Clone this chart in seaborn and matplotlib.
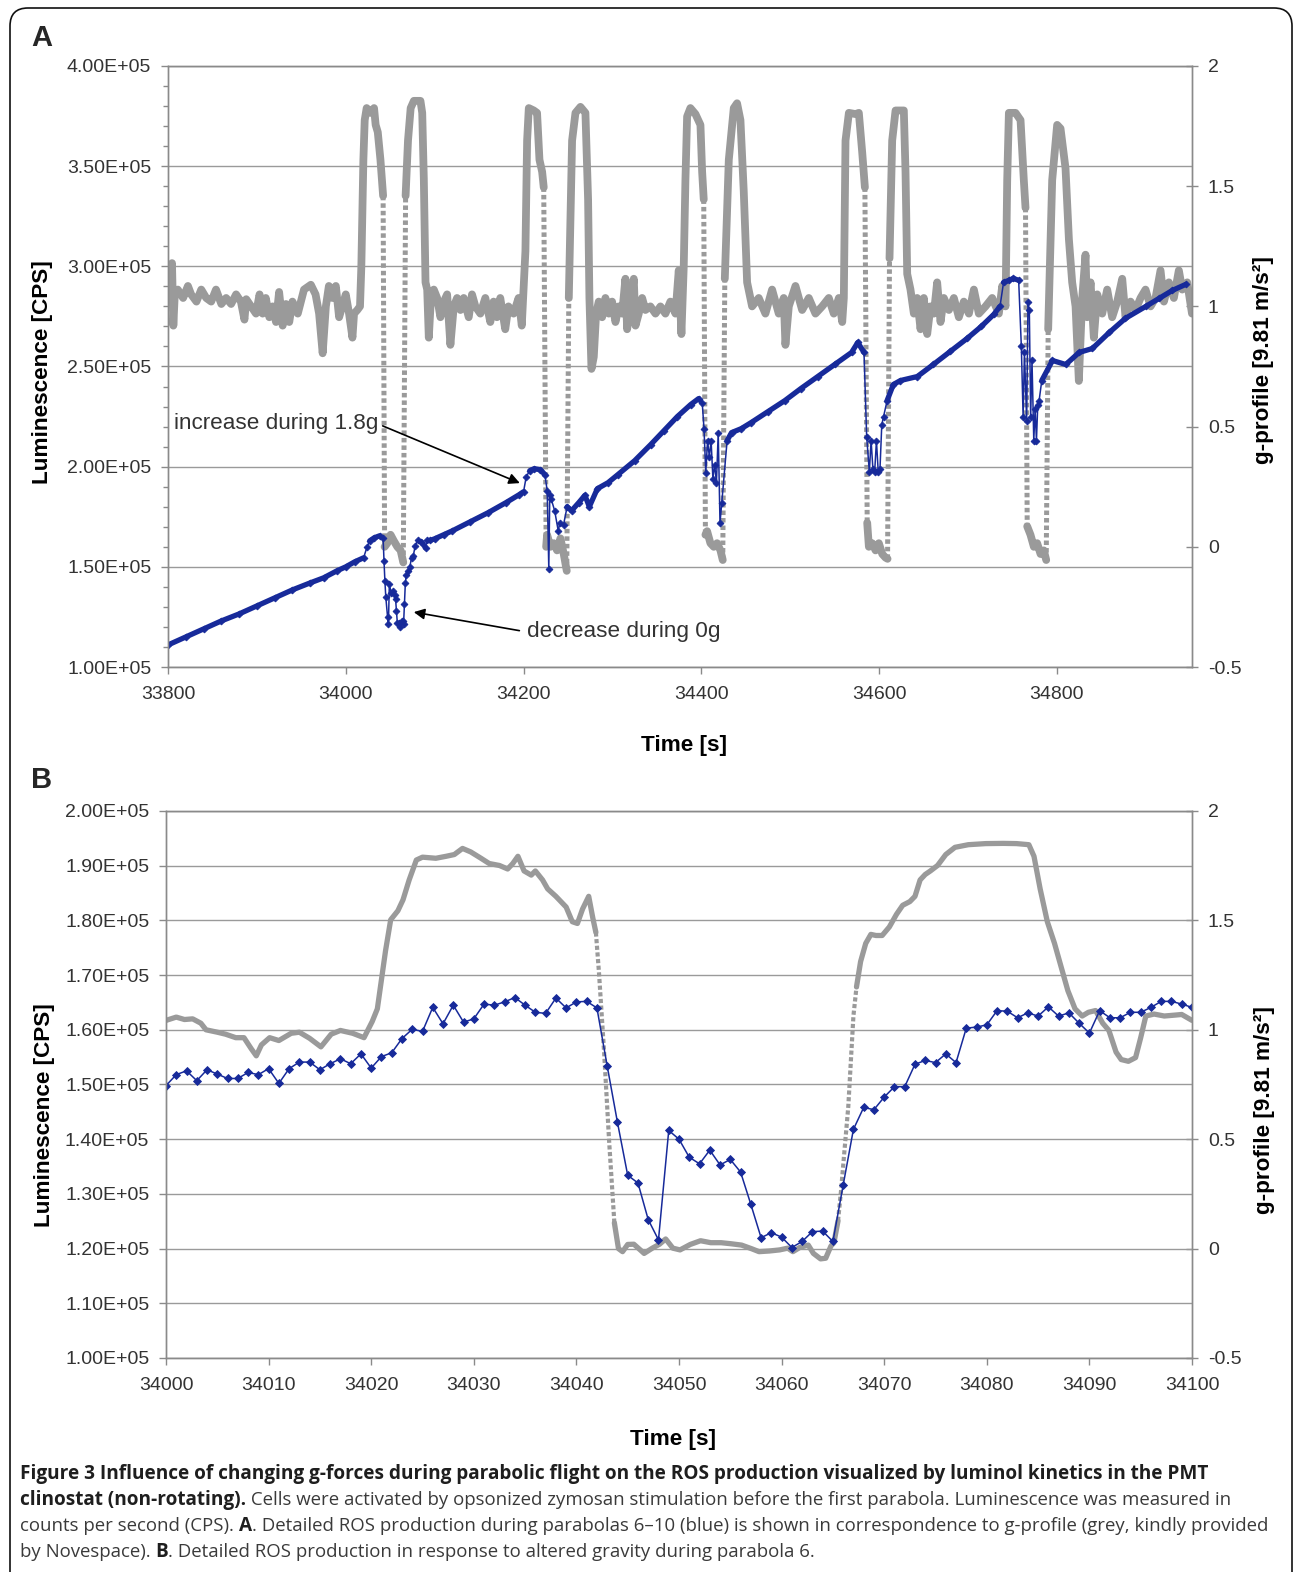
import numpy as np
import matplotlib
matplotlib.use('Agg')
import matplotlib.pyplot as plt
import seaborn as sns
from matplotlib.patches import FancyBboxPatch
from matplotlib.ticker import FuncFormatter, MultipleLocator

# ---------------- data ----------------
# Panel A: g-profile (grey, right axis)
a_g_time = [
    33800, 33803, 33804.5, 33806, 33807.5, 33811, 33817, 33822.4, 33826, 33832,
    33837.4, 33843, 33848.6, 33854, 33860, 33865.4, 33871, 33876.6, 33882, 33886,
    33888, 33893.5, 33899, 33903, 33906.5, 33910, 33914, 33917.7, 33921.5, 33925,
    33929, 33932.7, 33936.4, 33940, 33946, 33953, 33960.7, 33966, 33970, 33974,
    33977.6, 33981, 33985, 33988.8, 33992.5, 33996, 34000, 34003.7, 34007.5, 34009.3,
    34013, 34016, 34017.5, 34019.8, 34021.3, 34023.5, 34028, 34031.8, 34033.6, 34036,
    34039, 34042, 34043.7, 34046.7, 34050.4, 34054, 34058, 34061.7, 34064.7, 34067.3,
    34070, 34073, 34076.6, 34084, 34086, 34087.8, 34089.7, 34091.6, 34093.4, 34095.3,
    34099, 34102.8, 34106.5, 34110.3, 34114, 34117.7, 34121.5, 34125.2, 34129, 34132.7,
    34138.3, 34142, 34145.8, 34151.4, 34157, 34162.6, 34166.3, 34170, 34173.8, 34179.4,
    34183, 34188.8, 34194.4, 34198,
    34202.1, 34204, 34205.9, 34211.5, 34215.2, 34217.9, 34220.9, 34222.7, 34225.4, 34226.5,
    34230.2, 34234, 34237.7, 34241.5, 34245.2, 34248.6, 34250.9, 34254.6, 34258.4, 34264,
    34269.6, 34272.6, 34274.1, 34276.4, 34279, 34281.6, 34284.6, 34288.4, 34292.1, 34295.9,
    34299.6, 34303.4, 34307.1, 34310.9, 34314.6, 34316.5, 34320.2, 34324, 34325.9, 34329.6,
    34333.4, 34337.1, 34342.7, 34348.4, 34354, 34359.6, 34365.2, 34370.9, 34374.6, 34377.6,
    34380.2, 34382.1, 34384, 34387.7, 34393.4, 34399, 34400.9, 34402.7, 34404.6, 34406.5,
    34410.2, 34414, 34417.7, 34421.5, 34424.1, 34426.4, 34430.9, 34436.5, 34440.2, 34444,
    34447.7, 34451.5, 34457.1, 34464.6, 34472.1, 34479.6, 34487.1, 34492.7, 34494.6, 34498.4,
    34505.9, 34513.4, 34520.9, 34528.4, 34535.9, 34543.4, 34549,
    34554.7, 34558.5, 34560.3, 34562.2, 34566, 34573.5, 34577.2, 34581, 34584, 34586.6,
    34588.5, 34592.2, 34596, 34599.7, 34603.5, 34607.2, 34609.5, 34611.7, 34614.7, 34618.5,
    34627.8, 34629.7, 34631.6, 34635.3, 34639.1, 34642.8, 34646.6, 34650.3, 34654.1, 34657.8,
    34661.6, 34665.3, 34669.1, 34672.8, 34678.5, 34684.1, 34689.7, 34695.3, 34701, 34706.6,
    34712.2, 34719.7, 34727.2, 34734.7, 34738.5, 34742.2, 34744.1, 34746, 34753.5, 34759.1,
    34762.8, 34764.7, 34766.6, 34770.3, 34774.1, 34777.8, 34781.6, 34785.3, 34788, 34790.2,
    34794.7, 34800.3, 34804.1, 34809.7, 34813.5, 34817.2, 34821, 34824.7, 34828.5, 34832.2,
    34834.1, 34837.9, 34841.6, 34845.4, 34851, 34856.6, 34862.2, 34867.9, 34873.5, 34877.2,
    34882.9, 34888.5, 34894.1, 34899.7, 34905.4, 34911, 34916.6, 34920.4, 34926, 34931.6,
    34937.2, 34941, 34946.6, 34952,
]
a_g_value = [
    1.06, 1.08, 1.18, 0.92, 1.04, 1.07, 1.035, 1.085, 1.05, 1.02,
    1.07, 1.035, 1.02, 1.07, 1.01, 1.035, 1.01, 1.05, 1.02, 0.945,
    1.03, 1.0, 0.97, 1.05, 0.97, 1.035, 0.955, 1.0, 0.935, 1.06,
    0.92, 1.01, 0.935, 1.02, 0.97, 1.07, 1.09, 1.05, 0.97, 0.805,
    1.0, 1.085, 1.035, 1.085, 0.955, 1.0, 1.05, 0.97, 0.87, 0.97,
    0.985, 1.0, 1.165, 1.61, 1.775, 1.825, 1.805, 1.825, 1.755, 1.725,
    1.61, 1.46, 0.0, 0.015, 0.05, 0.025, 0.0, -0.015, -0.065, 1.46,
    1.69, 1.825, 1.855, 1.855, 1.805, 1.53, 1.1, 1.07, 0.87, 1.0,
    1.07, 1.035, 0.955, 1.02, 1.05, 0.84, 1.0, 1.035, 0.985, 1.035,
    0.955, 1.05, 1.0, 0.97, 1.035, 0.935, 1.02, 0.955, 1.035, 0.905,
    1.0, 0.97, 1.035, 0.92,
    1.23, 1.69, 1.825, 1.815, 1.805, 1.61, 1.56, 1.495, 0.0, 0.05,
    0.0, 0.015, -0.015, 0.035, -0.03, -0.1, 1.035, 1.69, 1.805, 1.83,
    1.805, 1.445, 1.035, 0.74, 0.79, 0.97, 1.02, 0.955, 1.035, 0.97,
    1.02, 0.935, 1.0, 0.97, 1.115, 0.905, 1.0, 1.115, 0.92, 0.97,
    1.035, 0.985, 1.0, 0.97, 1.0, 0.97, 1.02, 0.97, 1.15, 0.885,
    1.165, 1.525, 1.79, 1.825, 1.8, 1.755, 1.56, 1.445, 0.05, 0.065,
    0.015, 0.0, 0.015, -0.015, -0.055, 1.115, 1.61, 1.825, 1.845, 1.775,
    1.48, 1.1, 1.0, 1.035, 0.97, 1.07, 0.97, 1.035, 0.84, 1.0,
    1.085, 0.985, 1.035, 0.97, 1.0, 1.035, 0.97,
    1.035, 0.935, 1.035, 1.69, 1.805, 1.8, 1.805, 1.64, 1.495, 0.1,
    0.0, 0.015, -0.015, 0.015, -0.03, -0.045, -0.05, 1.2, 1.69, 1.815,
    1.815, 1.56, 1.135, 1.07, 0.97, 1.035, 0.905, 1.035, 0.885, 1.0,
    0.97, 1.1, 0.935, 1.035, 0.985, 1.035, 0.955, 1.02, 0.97, 1.07,
    0.97, 1.0, 1.035, 0.97, 1.085, 1.0, 1.525, 1.805, 1.805, 1.775,
    1.525, 1.41, 0.085, 0.05, 0.0, 0.015, -0.03, -0.015, -0.055, 0.905,
    1.525, 1.755, 1.74, 1.575, 1.28, 1.1, 1.0, 0.69, 1.035, 1.215,
    0.955, 1.1, 0.87, 1.05, 0.97, 1.07, 0.955, 1.02, 1.115, 0.955,
    1.02, 0.985, 1.035, 1.07, 1.0, 1.035, 1.15, 1.02, 1.1, 1.035,
    1.15, 1.07, 1.1, 0.97,
]

# Panel A: luminescence (blue, left axis)
a_lum_time = [
    33800, 33820, 33840, 33860, 33880, 33900, 33920, 33940, 33960, 33975,
    33990, 34000, 34010, 34020, 34024, 34027, 34032, 34038, 34042, 34043,
    34044, 34045, 34047, 34048, 34049, 34051, 34053, 34055, 34056, 34057,
    34058, 34060, 34061, 34063, 34064, 34065, 34066, 34067, 34068, 34070,
    34072, 34074, 34076, 34078, 34081, 34085, 34090, 34091, 34095, 34100,
    34110, 34120, 34140, 34160, 34180, 34195, 34200, 34203, 34207, 34212,
    34219, 34224, 34226.6, 34228.4, 34229.5, 34231, 34235, 34239, 34241, 34245,
    34249, 34254, 34262, 34269, 34274, 34283, 34295, 34306, 34325, 34343,
    34358, 34373, 34388, 34397, 34401, 34403, 34405, 34407, 34409, 34411,
    34413, 34415, 34417, 34419, 34421, 34423, 34429, 34434, 34445, 34456,
    34475, 34494, 34512, 34531, 34550, 34569, 34576, 34583, 34586, 34589,
    34591, 34593, 34595, 34597, 34599, 34601, 34603, 34605, 34609, 34616,
    34624, 34643, 34661, 34680, 34699, 34715, 34729, 34736, 34740, 34746,
    34751, 34757, 34760, 34762, 34763.5, 34766, 34767.5, 34769, 34770.5, 34772,
    34774, 34775.5, 34777, 34778.5, 34780, 34783, 34795, 34810, 34825, 34840,
    34859, 34877, 34900, 34915, 34930, 34945,
]
a_lum_value = [
    1.11e5, 1.15e5, 1.19e5, 1.23e5, 1.265e5, 1.305e5, 1.345e5, 1.385e5, 1.42e5, 1.445e5,
    1.48e5, 1.50e5, 1.525e5, 1.545e5, 1.60e5, 1.63e5, 1.645e5, 1.655e5, 1.645e5, 1.53e5,
    1.43e5, 1.35e5, 1.25e5, 1.215e5, 1.415e5, 1.37e5, 1.38e5, 1.36e5, 1.34e5, 1.28e5,
    1.22e5, 1.22e5, 1.20e5, 1.23e5, 1.232e5, 1.213e5, 1.316e5, 1.418e5, 1.458e5, 1.477e5,
    1.50e5, 1.544e5, 1.556e5, 1.603e5, 1.635e5, 1.625e5, 1.594e5, 1.635e5, 1.632e5, 1.64e5,
    1.66e5, 1.68e5, 1.725e5, 1.77e5, 1.82e5, 1.86e5, 1.875e5, 1.95e5, 1.98e5, 1.99e5,
    1.985e5, 1.96e5, 1.88e5, 1.49e5, 1.857e5, 1.84e5, 1.78e5, 1.68e5, 1.72e5, 1.71e5,
    1.80e5, 1.78e5, 1.82e5, 1.857e5, 1.80e5, 1.89e5, 1.92e5, 1.96e5, 2.03e5, 2.11e5,
    2.18e5, 2.25e5, 2.31e5, 2.34e5, 2.32e5, 2.19e5, 1.97e5, 2.13e5, 2.05e5, 2.13e5,
    1.94e5, 2.01e5, 1.92e5, 2.17e5, 1.72e5, 1.82e5, 2.13e5, 2.17e5, 2.19e5, 2.22e5,
    2.275e5, 2.33e5, 2.39e5, 2.45e5, 2.51e5, 2.57e5, 2.62e5, 2.57e5, 2.15e5, 1.975e5,
    2.13e5, 1.99e5, 1.975e5, 2.13e5, 1.975e5, 1.99e5, 2.21e5, 2.25e5, 2.33e5, 2.41e5,
    2.43e5, 2.45e5, 2.51e5, 2.575e5, 2.64e5, 2.70e5, 2.76e5, 2.80e5, 2.92e5, 2.93e5,
    2.94e5, 2.93e5, 2.60e5, 2.25e5, 2.57e5, 2.23e5, 2.82e5, 2.78e5, 2.25e5, 2.53e5,
    2.13e5, 2.29e5, 2.13e5, 2.31e5, 2.33e5, 2.43e5, 2.53e5, 2.51e5, 2.57e5, 2.59e5,
    2.67e5, 2.74e5, 2.80e5, 2.84e5, 2.88e5, 2.91e5,
]

# Panel B: g-profile during parabola 6
b_g_time = [
    34000, 34001, 34001.8, 34002.6, 34003.4, 34003.9, 34005, 34005.8, 34006.8, 34007.6,
    34008.3, 34008.8, 34009.3, 34010.1, 34011, 34012.2, 34013, 34014, 34015.1, 34016.1,
    34017, 34018.2, 34019.3, 34020.1, 34020.6, 34020.9, 34021.4, 34021.9, 34022.6, 34023.1,
    34023.7, 34024.4, 34025, 34026.3, 34027.3, 34028.1, 34028.9, 34029.7, 34030.7, 34031.5,
    34032.5, 34033.3, 34033.8, 34034.3, 34034.9, 34035.6, 34036, 34036.7, 34037.2, 34038,
    34039, 34039.6, 34040.1, 34040.6, 34041.2, 34041.6, 34041.9, 34042.2, 34042.7, 34043.2,
    34043.7, 34044.1, 34044.5, 34045, 34045.6, 34046.2, 34046.6, 34047.4, 34048.1, 34048.7,
    34049.4, 34050.1, 34051.1, 34052.1, 34053.1, 34054.1, 34055.1, 34056.1, 34057.1, 34057.8,
    34058.8, 34059.8, 34060.6, 34061.1, 34061.8, 34062.6, 34063.1, 34063.8, 34064.3, 34064.8,
    34065.1, 34065.5, 34065.8, 34066.1, 34066.5, 34066.8, 34067, 34067.3, 34067.7, 34068.2,
    34068.7, 34069.2, 34069.8, 34070.5, 34071.2, 34071.8, 34072.5, 34073, 34073.5, 34074,
    34074.5, 34075.2, 34076, 34076.9, 34078.2, 34079.9, 34081.6, 34082.9, 34084.1, 34084.6,
    34085.2, 34085.9, 34086.6, 34087.2, 34087.9, 34088.6, 34089.3, 34089.9, 34090.6, 34091.3,
    34091.9, 34092.6, 34093.1, 34093.8, 34094.5, 34095, 34095.5, 34096.3, 34097.3, 34098.3,
    34099, 34100,
]
b_g_value = [
    1.043, 1.058, 1.047, 1.05, 1.03, 1.0, 0.989, 0.98, 0.964, 0.964,
    0.914, 0.881, 0.931, 0.964, 0.951, 0.984, 0.989, 0.961, 0.922, 0.98,
    0.997, 0.984, 0.964, 1.038, 1.096, 1.196, 1.362, 1.503, 1.544, 1.594,
    1.685, 1.776, 1.789, 1.784, 1.793, 1.801, 1.829, 1.813, 1.784, 1.76,
    1.751, 1.735, 1.76, 1.793, 1.726, 1.707, 1.726, 1.685, 1.644, 1.61,
    1.561, 1.494, 1.486, 1.552, 1.61, 1.511, 1.445, 1.262, 0.898, 0.483,
    0.118, 0.0, -0.014, 0.019, 0.02, -0.005, -0.022, 0.002, 0.02, 0.044,
    0.002, -0.006, 0.019, 0.036, 0.027, 0.027, 0.022, 0.016, -0.001, -0.014,
    -0.011, -0.006, 0.002, -0.014, 0.006, 0.016, -0.022, -0.047, -0.044, 0.011,
    0.027, 0.127, 0.268, 0.433, 0.649, 0.898, 1.063, 1.196, 1.312, 1.395,
    1.436, 1.431, 1.431, 1.47, 1.528, 1.569, 1.586, 1.61, 1.685, 1.71,
    1.726, 1.751, 1.801, 1.834, 1.846, 1.851, 1.852, 1.851, 1.846, 1.793,
    1.644, 1.494, 1.395, 1.295, 1.179, 1.096, 1.063, 1.08, 1.088, 1.03,
    0.997, 0.898, 0.864, 0.856, 0.873, 0.964, 1.063, 1.072, 1.063, 1.067,
    1.07, 1.043,
]

# Panel B: luminescence, one reading per second
b_lum_time = list(range(34000, 34101))
b_lum_value = [
    1.498e5, 1.518e5, 1.525e5, 1.507e5, 1.527e5, 1.519e5, 1.511e5, 1.511e5, 1.522e5, 1.518e5,
    1.529e5, 1.502e5, 1.529e5, 1.541e5, 1.541e5, 1.527e5, 1.538e5, 1.547e5, 1.538e5, 1.556e5,
    1.530e5, 1.551e5, 1.558e5, 1.584e5, 1.601e5, 1.597e5, 1.641e5, 1.611e5, 1.645e5, 1.614e5,
    1.620e5, 1.647e5, 1.645e5, 1.651e5, 1.659e5, 1.645e5, 1.632e5, 1.630e5, 1.658e5, 1.640e5,
    1.651e5, 1.652e5, 1.640e5, 1.534e5, 1.431e5, 1.334e5, 1.320e5, 1.253e5, 1.216e5, 1.416e5,
    1.400e5, 1.367e5, 1.355e5, 1.380e5, 1.353e5, 1.363e5, 1.340e5, 1.281e5, 1.220e5, 1.229e5,
    1.221e5, 1.202e5, 1.213e5, 1.231e5, 1.232e5, 1.213e5, 1.316e5, 1.418e5, 1.458e5, 1.454e5,
    1.477e5, 1.496e5, 1.496e5, 1.537e5, 1.544e5, 1.540e5, 1.556e5, 1.540e5, 1.603e5, 1.605e5,
    1.609e5, 1.635e5, 1.634e5, 1.622e5, 1.631e5, 1.625e5, 1.642e5, 1.625e5, 1.631e5, 1.612e5,
    1.594e5, 1.635e5, 1.622e5, 1.622e5, 1.632e5, 1.632e5, 1.641e5, 1.652e5, 1.652e5, 1.647e5,
    1.641e5,
]

# ---------------- style ----------------
GREY = '#9a9a9a'
BLUE = '#172a9a'
AXC = '#8a8a8a'
GRID = '#9a9a9a'
TXT = '#333333'
LABEL_SIZE = 16.2

sns.set_theme(style='white')
plt.rcParams['font.family'] = ['Liberation Sans', 'DejaVu Sans']

W, H = 1293, 1572
fig = plt.figure(figsize=(W / 100, H / 100), dpi=100)


def px_rect(l, t, r, b):
    return [l / W, 1 - b / H, (r - l) / W, (b - t) / H]


def draw_runs(ax, t, v, flag, kw_true, kw_false):
    # draw consecutive segments sharing the same flag as one polyline
    t = np.asarray(t, float)
    v = np.asarray(v, float)
    start = 0
    n = len(flag)
    for i in range(1, n + 1):
        if i == n or flag[i] != flag[start]:
            kw = kw_true if flag[start] else kw_false
            if kw is not None:
                sns.lineplot(x=t[start:i + 1], y=v[start:i + 1], ax=ax, sort=False,
                             estimator=None, legend=False, **kw)
            start = i


def steep(t, v, thr):
    t = np.asarray(t, float)
    v = np.asarray(v, float)
    return np.abs(np.diff(v) / np.diff(t)) > thr


def style_axes(ax, axg, ylim, ymajor, yminor, xlim, xmajor):
    ax.set_xlim(*xlim)
    ax.set_ylim(*ylim)
    axg.set_ylim(-0.5, 2)
    ax.yaxis.set_major_locator(MultipleLocator(ymajor))
    if yminor:
        ax.yaxis.set_minor_locator(MultipleLocator(yminor))
    ax.yaxis.set_major_formatter(FuncFormatter(lambda v, p: f'{v:.2E}'))
    axg.yaxis.set_major_locator(MultipleLocator(0.5))
    axg.yaxis.set_major_formatter(FuncFormatter(lambda v, p: f'{v:g}'))
    ax.xaxis.set_major_locator(MultipleLocator(xmajor))
    ax.grid(False)
    axg.grid(False)
    ax.grid(axis='y', which='major', color=GRID, lw=1.0)
    for a in (ax, axg):
        for s in a.spines.values():
            s.set_color(AXC)
            s.set_linewidth(1.0)
            s.set_visible(True)
    ax.tick_params(axis='y', which='major', direction='out', length=5, width=1,
                   color=AXC, labelsize=14, labelcolor=TXT, pad=7, left=True, right=False)
    ax.tick_params(axis='y', which='minor', direction='out', length=3.5, width=1,
                   color=AXC, left=True, right=False)
    ax.tick_params(axis='x', which='major', direction='out', length=5, width=1,
                   color=AXC, labelsize=14, labelcolor=TXT, pad=9, bottom=True)
    axg.tick_params(axis='y', which='major', direction='inout', length=9, width=1,
                    color=AXC, labelsize=14, labelcolor=TXT, pad=7, right=True, left=False)
    ax.set_zorder(axg.get_zorder() + 1)
    ax.patch.set_visible(False)


def panel(rect, g_t, g_v, g_thr, g_lw, dot_lw, dot_pat, lum_t, lum_v, dense):
    ax = fig.add_axes(rect)
    axg = ax.twinx()
    # grey g-profile: solid where slow, dotted where the samples are spread out
    draw_runs(axg, g_t, g_v, steep(g_t, g_v, g_thr),
              dict(color=GREY, lw=dot_lw, linestyle=(0, dot_pat)),
              dict(color=GREY, lw=g_lw))
    # blue luminescence
    sns.lineplot(x=lum_t, y=lum_v, ax=ax, color=BLUE, lw=1.1, marker='D',
                 markersize=4 if not dense else 3.5, markeredgecolor=BLUE,
                 markeredgewidth=0.6, sort=False, estimator=None, legend=False)
    if dense:
        t = np.asarray(lum_t, float)
        v = np.asarray(lum_v, float)
        dt = np.diff(t)
        flag = (dt >= 4.5) & (np.abs(np.diff(v) / dt) < 1500)
        draw_runs(ax, t, v, flag, dict(color=BLUE, lw=3.8), None)
    return ax, axg


# ---------------- panel A ----------------
axA, axA_g = panel(px_rect(168, 66, 1192, 667), a_g_time, a_g_value, 0.4, 5.6, 3.6,
                   (0.9, 0.6), a_lum_time, a_lum_value, True)
style_axes(axA, axA_g, (1.0e5, 4.0e5), 0.5e5, 1e4, (33800, 34952), 200)

axA.annotate('increase during 1.8g', xy=(34195.8, 1.918e5), xytext=(33806.5, 2.213e5),
             fontsize=LABEL_SIZE, color=TXT, ha='left', va='center',
             arrowprops=dict(arrowstyle='-|>', color='black', lw=1.2,
                             mutation_scale=16, relpos=(1, 0.5), shrinkA=1, shrinkB=0))
axA.annotate('decrease during 0g', xy=(34076.5, 1.274e5), xytext=(34203.6, 1.175e5),
             fontsize=LABEL_SIZE, color=TXT, ha='left', va='center',
             arrowprops=dict(arrowstyle='-|>', color='black', lw=1.2,
                             mutation_scale=16, relpos=(0, 0.5), shrinkA=3, shrinkB=0))

# ---------------- panel B ----------------
axB, axB_g = panel(px_rect(166, 811, 1192, 1358), b_g_time, b_g_value, 0.4, 3.8, 3.0,
                   (1.0, 0.6), b_lum_time, b_lum_value, False)
style_axes(axB, axB_g, (1.0e5, 2.0e5), 1e4, None, (34000, 34100), 10)

# axis labels
for ax, axg, ylab, glab, xl in ((axA, axA_g, (-0.112, 0.491), (1.060, 0.511), (0.504, -0.113)),
                                (axB, axB_g, (-0.108, 0.444), (1.060, 0.453), (0.494, -0.130))):
    ax.set_ylabel('Luminescence [CPS]', fontsize=LABEL_SIZE, fontweight='bold', color='black')
    ax.yaxis.set_label_coords(*ylab)
    axg.set_ylabel('g-profile [9.81 m/s²]', fontsize=LABEL_SIZE, fontweight='bold',
                   color='black', rotation=90)
    axg.yaxis.set_label_coords(*glab)
    ax.set_xlabel('Time [s]', fontsize=LABEL_SIZE, fontweight='bold', color='black')
    ax.xaxis.set_label_coords(*xl)

fig.text(42 / W, 1 - 38 / H, 'A', fontsize=21, fontweight='bold', ha='center', va='center')
fig.text(42 / W, 1 - 780 / H, 'B', fontsize=21, fontweight='bold', ha='center', va='center')

# ---------------- frame ----------------
frame = FancyBboxPatch((0.10, -0.4), 12.82, 16.04, boxstyle='round,pad=0,rounding_size=0.18',
                       transform=fig.dpi_scale_trans, fill=False, ec='#111111', lw=1.2,
                       clip_on=False)
fig.add_artist(frame)

# ---------------- caption ----------------
renderer = fig.canvas.get_renderer()
CAP_FONT = ['Open Sans', 'DejaVu Sans']
line1 = ('Figure 3 Influence of changing g-forces during parabolic flight on the ROS '
         'production visualized by luminol kinetics in the PMT')
line3_reg = ('counts per second (CPS). . Detailed ROS production during parabolas 6\u201310 '
             '(blue) is shown in correspondence to g-profile (grey, kindly provided')
probe = fig.text(0, 0, line1, fontsize=10, fontweight='bold', family=CAP_FONT)
bold_size = 10 * 1192 / probe.get_window_extent(renderer).width
probe.remove()
probe = fig.text(0, 0, line3_reg, fontsize=10, family=CAP_FONT)
reg_size = 10 * 1235 / probe.get_window_extent(renderer).width
probe.remove()

caption = [
    (1479, [(line1, True)]),
    (1505, [('clinostat (non-rotating).', True),
            (' Cells were activated by opsonized zymosan stimulation before the first '
             'parabola. Luminescence was measured in', False)]),
    (1531, [('counts per second (CPS). ', False), ('A', True),
            ('. Detailed ROS production during parabolas 6\u201310 (blue) is shown in '
             'correspondence to g-profile (grey, kindly provided', False)]),
    (1557, [('by Novespace). ', False), ('B', True),
            ('. Detailed ROS production in response to altered gravity during parabola 6.',
             False)]),
]
for y_px, parts in caption:
    x = 20.0
    for s, bold in parts:
        t = fig.text(x / W, 1 - y_px / H, s, fontsize=bold_size if bold else reg_size,
                     fontweight='bold' if bold else 'normal',
                     color='#1e1e1e' if bold else '#3a3a3a',
                     family=CAP_FONT, ha='left', va='baseline')
        x += t.get_window_extent(renderer).width

fig.savefig('out.png', dpi=100)
